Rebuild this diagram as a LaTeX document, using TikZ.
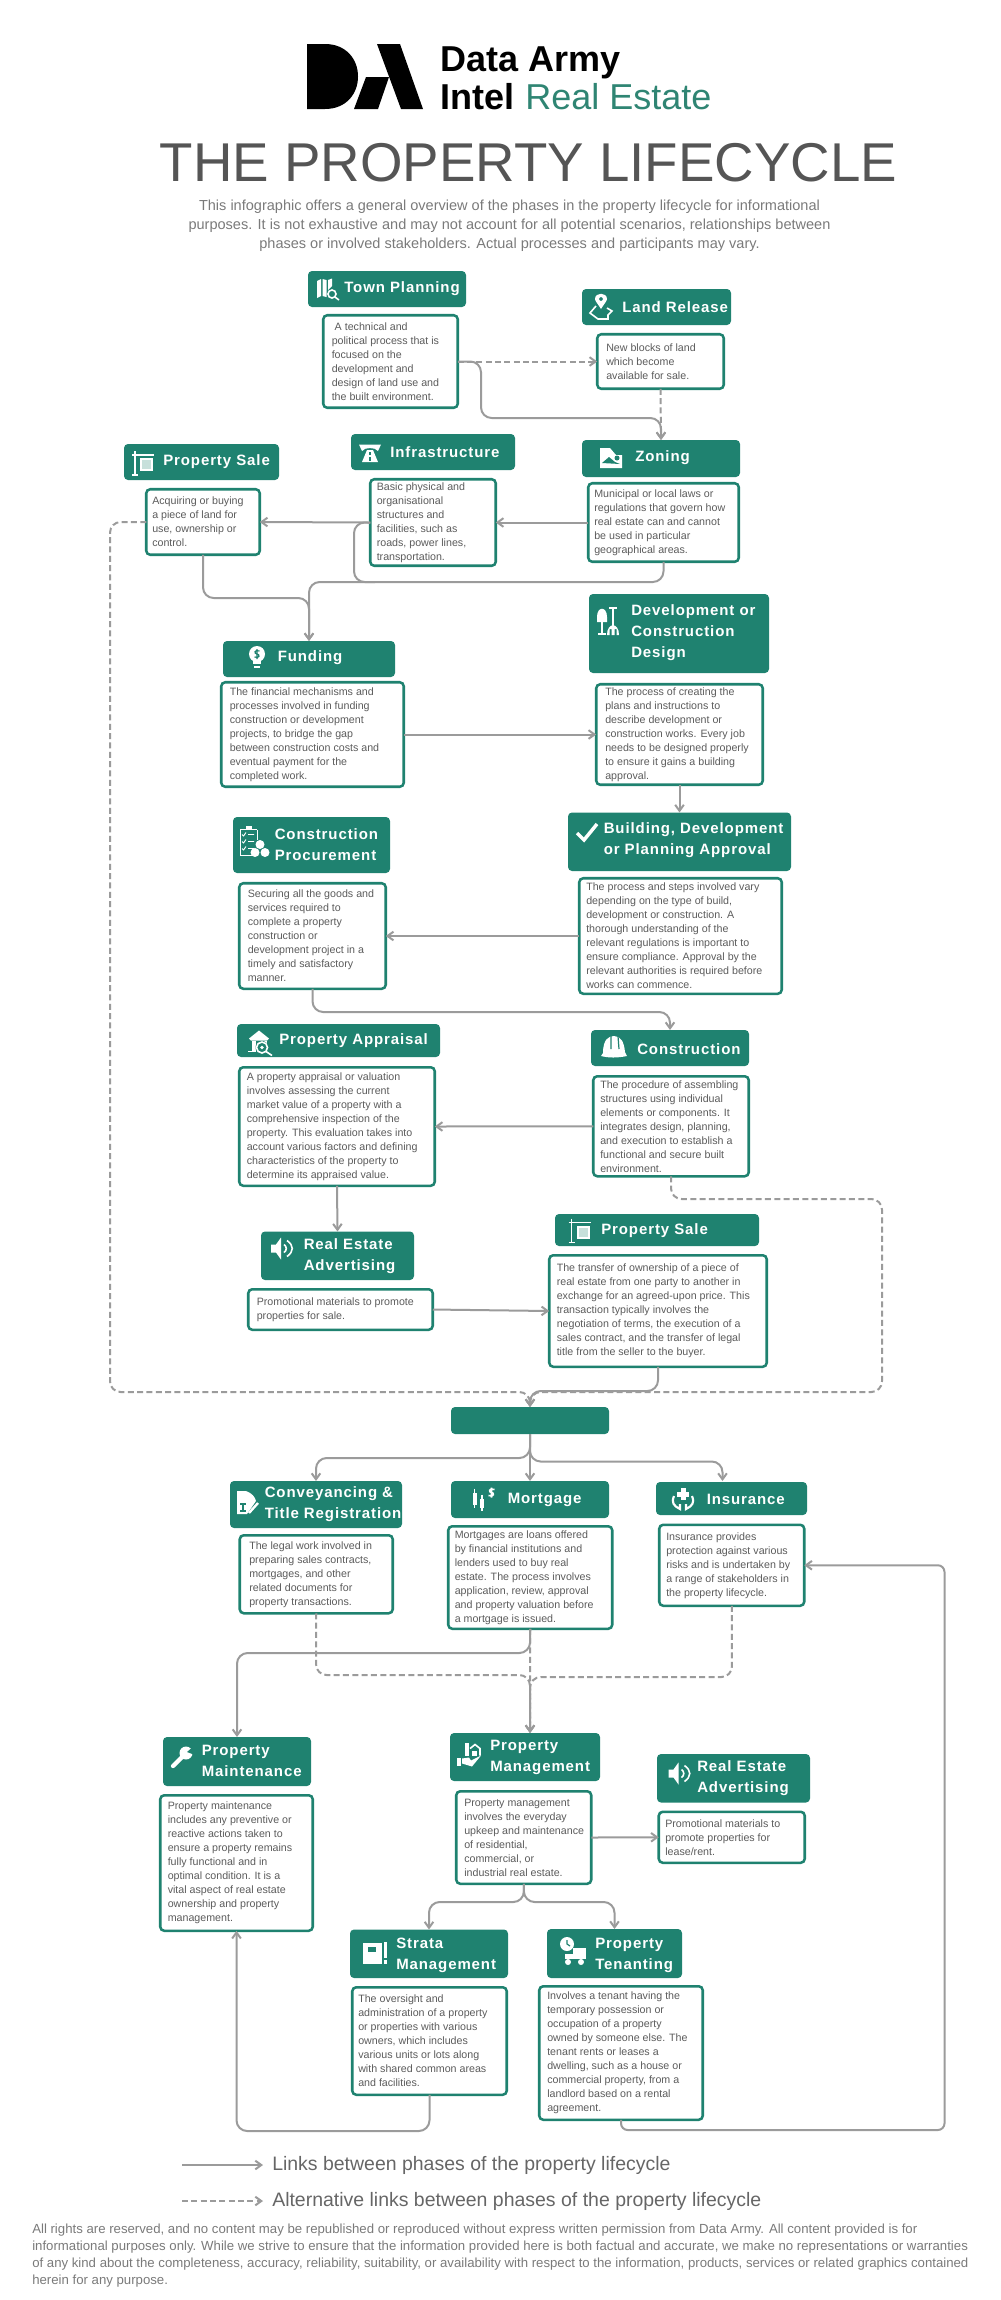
\documentclass[tikz,border=0pt]{standalone}
\usepackage{fontspec}
\setmainfont{Liberation Sans}
\newfontfamily\headfont[LetterSpace=6]{Liberation Sans}
\usetikzlibrary{arrows.meta}
\definecolor{propgreen}{HTML}{1F8270}
\definecolor{logogreen}{HTML}{2F8573}
\definecolor{linegrey}{HTML}{9B9B9B}
\definecolor{bodygrey}{HTML}{5C5C5C}
\definecolor{titlegrey}{HTML}{555555}
\definecolor{notegrey}{HTML}{7A7A7A}
\tikzset{
  headbox/.style={fill=propgreen, rounded corners=3pt, inner sep=0, outer sep=0},
  bodybox/.style={fill=white, draw=propgreen, line width=1.9pt, rounded corners=3pt, inner sep=0, outer sep=0},
  headtext/.style={anchor=west, inner sep=0, text=white, align=left, font=\headfont\bfseries\fontsize{11.25}{15.75}\selectfont},
  bodytext/.style={anchor=west, inner sep=0, text=bodygrey, align=left, font=\fontsize{8}{10.5}\selectfont},
  link/.style={draw=linegrey, line width=1.5pt, ->, rounded corners=8pt},
  altlink/.style={link, dash pattern=on 4.5pt off 2.5pt},
  iconline/.style={draw=white, line width=1.2pt, fill=none},
  iconcut/.style={draw=propgreen, line width=0.9pt, fill=none},
  iconmap/.pic={
    \fill[white] (-11,-8)--(-7,-10)--(-7,7)--(-11,9)--cycle;
    \fill[white] (-5.5,-10)--(-1.5,-9)--(-1.5,8)--(-5.5,7)--cycle;
    \fill[white] (0,-9)--(4,-10.5)--(4,-3)--(0,1)--cycle;
    \draw[iconline] (4,5) circle (4);
    \draw[iconline] (7,8)--(11,11);
  },
  iconpin/.pic={
    \fill[white,even odd rule] (0,2) .. controls (-3,-3) and (-6,-6) .. (-6,-8) .. controls (-6,-15) and (6,-15) .. (6,-8) .. controls (6,-6) and (3,-3) .. (0,2) -- cycle (0,-8) circle (2);
    \draw[iconline] (-5,-1) -- (-11,6) -- (-3,12) -- (7,12) -- (7,8) -- (11,4) -- (6,1);
  },
  iconimage/.pic={
    \fill[white] (-11,-10)--(-1,-10)--(5,-3)--(11,-3)--(11,10)--(-11,10)--cycle;
    \fill[propgreen] (6,0) circle (2.5);
    \fill[propgreen] (-9,5)--(-2,-1)--(4,4)--(9,6)--cycle;
  },
  iconroad/.pic={
    \fill[white] (-11,-8.5)--(11,-8.5)--(8,-2) .. controls (5,-6) and (-5,-6) .. (-8,-2) -- cycle;
    \fill[white] (-8,9)--(-3,-3)--(3,-3)--(8,9)--cycle;
    \draw[iconcut] (0,-1)--(0,2) (0,4)--(0,8);
  },
  iconsign/.pic={
    \draw[iconline] (-8,-12)--(-8,12) (-11,12)--(-5,12) (-11,-8)--(11,-8);
    \fill[white] (-3,-5) rectangle (10,8);
    \fill[white!75!propgreen] (-1,-3) rectangle (8,6);
  },
  iconbulb/.pic={
    \fill[white] (0,-3) circle (8);
    \fill[white] (-4,3) rectangle (4,7);
    \draw[iconline] (-3,10)--(3,10);
    \draw[iconcut] (2.5,-6) .. controls (-3,-8) and (-3,-3) .. (0,-3) .. controls (3,-3) and (3,2) .. (-2.5,0) (0,-8)--(0,2);
  },
  icontools/.pic={
    \fill[white] (-13,-4) .. controls (-13,-15) and (-3,-15) .. (-3,-4) -- (-3,1) -- (-13,1) -- cycle;
    \draw[iconline] (-8,1)--(-8,13) (-12,13)--(-4,13) (3,-13)--(3,6) (-1,-13)--(7,-13);
    \fill[white] (-3,14) .. controls (-3,1) and (9,1) .. (9,14) -- (6.5,14) -- (6.5,8) -- (4.5,8) -- (4.5,14) -- (1.5,14) -- (1.5,8) -- (-0.5,8) -- (-0.5,14) -- cycle;
  },
  iconcheck/.pic={
    \draw[white, line width=2.6pt] (-10,1)--(-3,8)--(10,-8);
  },
  iconclip/.pic={
    \draw[white, line width=0.7pt] (3,-12)--(3,-2) (-14,-12)--(-14,14)--(-2,14) (-14,-12)--(3,-12);
    \fill[white] (-8,-16) rectangle (-2,-12);
    \foreach \y in {-7,0,7} \draw[white, line width=0.7pt] (-12,\y)--(-10.5,\y+1.5)--(-8,\y-2) (-6,\y)--(0,\y);
    \fill[white] (6,3) circle (4.5) (1,11) circle (4.5) (11,11) circle (4.5);
  },
  iconhouse/.pic={
    \fill[white] (-11,-4)--(-1,-12)--(9,-4)--(7,-2)--(-9,-2)--cycle;
    \fill[white] (-8,-2) rectangle (-4,8);
    \draw[iconline] (-12,9)--(-4,9);
    \fill[white] (7,-2) rectangle (4,1);
    \fill[propgreen] (2,5) circle (6.5);
    \draw[iconline] (2,5) circle (5.5);
    \draw[iconline] (6,9)--(12,13);
    \fill[white] (2,5) circle (1.8);
  },
  iconhat/.pic={
    \fill[white] (-13,9) -- (-11,6) .. controls (-11,-8) and (-5,-11) .. (0,-11) .. controls (7,-11) and (10,-5) .. (11,5) -- (13,9) .. controls (3,11) and (-5,11) .. (-13,9) -- cycle;
    \draw[iconcut] (-3,-11)--(-3,2) (4,-11)--(5,2);
  },
  iconspeaker/.pic={
    \fill[white] (-11,-4)--(-6,-4)--(-1,-11)--(-1,11)--(-6,4)--(-11,4)--cycle;
    \draw[iconline] (2,-4) .. controls (5,-2) and (5,2) .. (2,4) (5,-8) .. controls (12,-3) and (12,3) .. (5,8);
  },
  icondeed/.pic={
    \fill[white] (-11,-12)--(-2,-12) .. controls (4,-10) and (7,-6) .. (8,-2) -- (-1,11) -- (-11,11) -- cycle;
    \draw[iconcut] (-8,1)--(-2,1) (-5,1)--(-5,8) (-8,8)--(-2,8);
    \draw[white, line width=1.8pt] (1,10)--(10,0);
  },
  iconcandle/.pic={
    \fill[white] (-11,-7) rectangle (-7,5);
    \draw[iconline] (-9,-11)--(-9,8) (-1.5,-5)--(-1.5,11);
    \fill[white] (-3.5,-1) rectangle (0.5,8);
    \draw[iconline] (11,-10) .. controls (5,-12) and (5,-7) .. (8,-7) .. controls (11,-7) and (11,-2) .. (5,-4) (8,-12)--(8,-2);
  },
  iconcare/.pic={
    \fill[white] (-2.5,-11) rectangle (2.5,1);
    \fill[white] (-6,-7.5) rectangle (6,-2.5);
    \draw[white, line width=1.6pt] (-9,-3) .. controls (-12,4) and (-9,7) .. (-3,10) -- (-3,5) (9,-3) .. controls (12,4) and (9,7) .. (3,10) -- (3,5);
  },
  iconwrench/.pic={
    \draw[white, line width=3.2pt, line cap=round] (-9,9)--(3,-3);
    \fill[white] (4,-4) circle (6.5);
    \fill[propgreen] (5,-5)--(12,-11)--(13,-2)--cycle;
  },
  iconhand/.pic={
    \fill[white] (-4,-12) rectangle (0,1);
    \draw[iconline] (1,-6)--(6,-10)--(11,-6)--(11,1);
    \fill[white] (3,-4) rectangle (8,1);
    \fill[white] (-12,3) rectangle (-8,11);
    \fill[white] (-7,4)--(0,3)--(2,6)--(12,1)--(3,12)--(-7,9)--cycle;
  },
  iconstrata/.pic={
    \fill[white] (-12,-10) rectangle (7,11);
    \fill[propgreen] (-7,-6) rectangle (1,-1);
    \fill[white] (9,-11) rectangle (12,5);
    \fill[white] (9,7) rectangle (12,11);
  },
  icontruck/.pic={
    \fill[white] (-6,-7) circle (7);
    \draw[iconcut] (-6,-11)--(-6,-7)--(-3,-5);
    \fill[white] (0,-3) rectangle (13,8);
    \fill[white] (-8,3) rectangle (0,8);
    \fill[white] (-5,11) circle (3) (8,11) circle (3);
  }
}
\begin{document}
\begin{tikzpicture}[x=0.75pt, y=-0.75pt, >={Straight Barb[length=4.5pt,width=6.5pt]}]
 \useasboundingbox (0,0) rectangle (1000,2300);

 % logo
 \fill[black] (307,44) -- (325,44) .. controls (346,44) and (358,59) .. (358,76.5) .. controls (358,94) and (346,109) .. (325,109) -- (307,109) -- cycle;
 \fill[black] (377,44) -- (400,44) -- (423,109) -- (401,109) -- cycle;
 \fill[black] (366,77) -- (389,77) -- (378,109) -- (354,109) -- cycle;
 \node[anchor=base west, inner sep=0, font=\bfseries\fontsize{27}{27}\selectfont] (logotop) at (440,71) {Data Army};
 \node[anchor=base west, inner sep=0, font=\bfseries\fontsize{27}{27}\selectfont] (logointel) at (440,109) {Intel};
 \node[anchor=base west, inner sep=0, text=logogreen, font=\fontsize{27}{27}\selectfont] (logoreal) at (525,109) {Real Estate};

 \node[anchor=base, inner sep=0, text=titlegrey, font=\fontsize{41}{41}\selectfont] (title) at (528.5,181) {THE PROPERTY LIFECYCLE};
 \node[inner sep=0, text=notegrey, align=center, font=\fontsize{10.9}{14.3}\selectfont] (intro) at (509.5,226) {This infographic offers a general overview of the phases in the property lifecycle for informational\\purposes. It is not exhaustive and may not account for all potential scenarios, relationships between\\phases or involved stakeholders. Actual processes and participants may vary.};

 % headers
 \foreach \nm/\xa/\ya/\xb/\yb/\tx/\ty/\txt in {
   townhead/308/271/466/307/344/289/{Town Planning},
   landhead/582/289/731/325/622/307/{Land Release},
   zonehead/582/440/740/477/635/458/{Zoning},
   infrahead/351/434/515/470/390/452/{Infrastructure},
   buyhead/124/444/279/480/163/462/{Property Sale},
   fundhead/223/641/395/677/277.5/658/{Funding},
   devhead/589/594/769/673/631/633/{Development or\\Construction\\Design},
   approvehead/568/812.5/791/871/603.5/840/{Building, Development\\or Planning Approval},
   prochead/233/817/390/873/274.5/845/{Construction\\Procurement},
   appraisehead/237/1024/440/1057/279/1041/{Property Appraisal},
   buildhead/591/1030/749/1066/637/1049/{Construction},
   adhead/261/1231.5/414/1280/303.5/1256.5/{Real Estate\\Advertising},
   salehead/555/1214/759/1246/601/1231/{Property Sale},
   convhead/230/1481/402/1528/264.5/1504/{Conveyancing \&\\Title Registration},
   morthead/451/1481/609/1518/507.5/1500/{Mortgage},
   insurehead/656/1482/807/1515/706.5/1499/{Insurance},
   mainthead/163/1737/311/1786/201.5/1761/{Property\\Maintenance},
   mgmthead/450/1733/600/1781/490/1757.5/{Property\\Management},
   leasehead/657/1754/810/1802.5/697/1778.5/{Real Estate\\Advertising},
   stratahead/350/1929.5/508/1978/396/1955/{Strata\\Management},
   tenanthead/547/1929/682/1978/595/1955/{Property\\Tenanting}} {
     \node[headbox, minimum width=(\xb-\xa)*0.75pt, minimum height=(\yb-\ya)*0.75pt] (\nm) at ({(\xa+\xb)/2},{(\ya+\yb)/2}) {};
     \node[headtext] (\nm text) at (\tx,\ty) {\txt};
 }
 \node[headbox, minimum width=118.5pt, minimum height=20.25pt] (blankhead) at (530,1420.5) {};

 % icons
 \pic at (328,289) {iconmap};
 \pic at (601,307) {iconpin};
 \pic at (611,458) {iconimage};
 \pic at (370,453) {iconroad};
 \pic at (143,463) {iconsign};
 \pic at (257,657) {iconbulb};
 \pic at (610,621) {icontools};
 \pic at (587,832) {iconcheck};
 \pic at (254,841.5) {iconclip};
 \pic at (260,1042.5) {iconhouse};
 \pic at (614,1047) {iconhat};
 \pic at (282,1248.5) {iconspeaker};
 \pic at (579.5,1230.5) {iconsign};
 \pic at (248,1503) {icondeed};
 \pic at (483.5,1499.5) {iconcandle};
 \pic at (683,1499) {iconcare};
 \pic at (182,1757) {iconwrench};
 \pic at (469,1754.5) {iconhand};
 \pic at (679.5,1773.5) {iconspeaker};
 \pic at (375,1953) {iconstrata};
 \pic at (573,1951) {icontruck};

 % text boxes
 \foreach \nm/\xa/\ya/\xb/\yb/\pad/\txt in {
   town/322/314/459/409/9.5/{\ A technical and\\political process that is\\focused on the\\development and\\design of land use and\\the built environment.},
   land/596/333/725/390/10/{New blocks of land\\which become\\available for sale.},
   zone/587/482/740/563/7/{Municipal or local laws or\\regulations that govern how\\real estate can and cannot\\be used in particular\\geographical areas.},
   infra/369/478/497/567/7.5/{Basic physical and\\organisational\\structures and\\facilities, such as\\roads, power lines,\\transportation.},
   buy/145/488/261/556/7/{Acquiring or buying\\a piece of land for\\use, ownership or\\control.},
   fund/220/681/405/788/9.5/{The financial mechanisms and\\processes involved in funding\\construction or development\\projects, to bridge the gap\\between construction costs and\\eventual payment for the\\completed work.},
   dev/595/683/764/786/10/{The process of creating the\\plans and instructions to\\describe development or\\construction works. Every job\\needs to be designed properly\\to ensure it gains a building\\approval.},
   approve/578/877/783/995/8/{The process and steps involved vary\\depending on the type of build,\\development or construction. A\\thorough understanding of the\\relevant regulations is important to\\ensure compliance. Approval by the\\relevant authorities is required before\\works can commence.},
   proc/238/882/387/990/9.5/{Securing all the goods and\\services required to\\complete a property\\construction or\\development project in a\\timely and satisfactory\\manner.},
   appraise/238/1066/436/1187/8.5/{A property appraisal or valuation\\involves assessing the current\\market value of a property with a\\comprehensive inspection of the\\property. This evaluation takes into\\account various factors and defining\\characteristics of the property to\\determine its appraised value.},
   build/592/1075/750/1177.5/8/{The procedure of assembling\\structures using individual\\elements or components. It\\integrates design, planning,\\and execution to establish a\\functional and secure built\\environment.},
   ad/247/1288/434/1331/9.5/{Promotional materials to promote\\properties for sale.},
   sale/548/1254/768/1368/8.5/{The transfer of ownership of a piece of\\real estate from one party to another in\\exchange for an agreed-upon price. This\\transaction typically involves the\\negotiation of terms, the execution of a\\sales contract, and the transfer of legal\\title from the seller to the buyer.},
   conv/238.5/1534/394/1614.5/10.5/{The legal work involved in\\preparing sales contracts,\\mortgages, and other\\related documents for\\property transactions.},
   mort/447/1525/613.5/1630/7.5/{Mortgages are loans offered\\by financial institutions and\\lenders used to buy real\\estate. The process involves\\application, review, approval\\and property valuation before\\a mortgage is issued.},
   insure/658/1523.5/805.5/1607/8/{Insurance provides\\protection against various\\risks and is undertaken by\\a range of stakeholders in\\the property lifecycle.},
   maint/159/1794/314/1932/8.5/{Property maintenance\\includes any preventive or\\reactive actions taken to\\ensure a property remains\\fully functional and in\\optimal condition. It is a\\vital aspect of real estate\\ownership and property\\management.},
   mgmt/455/1790/592.5/1885/9/{Property management\\involves the everyday\\upkeep and maintenance\\of residential,\\commercial, or\\industrial real estate.},
   lease/657.5/1810.5/806/1864/7.5/{Promotional materials to\\promote properties for\\lease/rent.},
   strata/351/1986/508/2096/7/{The oversight and\\administration of a property\\or properties with various\\owners, which includes\\various units or lots along\\with shared common areas\\and facilities.},
   tenant/538/1985/704/2121/9/{Involves a tenant having the\\temporary possession or\\occupation of a property\\owned by someone else. The\\tenant rents or leases a\\dwelling, such as a house or\\commercial property, from a\\landlord based on a rental\\agreement.}} {
     \node[bodybox, minimum width=(\xb-\xa-2.5)*0.75pt, minimum height=(\yb-\ya-2.5)*0.75pt] (\nm) at ({(\xa+\xb)/2},{(\ya+\yb)/2}) {};
     \node[bodytext] (\nm text) at ({\xa+\pad},{(\ya+\yb)/2}) {\txt};
 }

 % free ends of lines
 \coordinate (infrajoin) at (375,582);
 \coordinate (insuretop) at (722.5,1481);
 \coordinate (mgmttop) at (530,1733);

 % lines
 \draw[altlink] (town.east) -- (land.west);
 \draw[link] (town.east) -| (481,418) -| (zonehead.north);
 \draw[altlink] (land.south) -- (zonehead.north);
 \draw[link] (zone.west) -- (infra.east);
 \draw[link] (infra.west) -- (buy.east);
 \draw[link,-] (infra.west) -| (354,582) -- (infrajoin);
 \draw[link] (zone.south) -- (663.5,582) -| (fundhead.north);
 \draw[link] (buy.south) -- (203,598) -| (fundhead.north);
 \draw[altlink] (buy.west) -| (110,1392) -| (blankhead.north);
 \draw[link] (fund.east) -- (dev.west);
 \draw[link] (dev.south) -- (approvehead.north);
 \draw[link] (approve.west) -- (proc.east);
 \draw[link] (proc.south) -- (312.5,1012) -| (buildhead.north);
 \draw[link] (build.west) -- (appraise.east);
 \draw[link] (appraise.south) -- (adhead.north);
 \draw[altlink] (build.south) -- (671,1199) -| (882,1392) -| (blankhead.north);
 \draw[link] (ad.east) -- (sale.west);
 \draw[link] (sale.south) -- (658,1391) -| (blankhead.north);

 \draw[link] (blankhead.south) -- (morthead.north);
 \draw[link] (blankhead.south) -- (530,1458) -| (convhead.north);
 \draw[link] (blankhead.south) -- (530,1461.5) -| (insuretop);
 \draw[link] (mort.south) -- (530,1653) -| (mainthead.north);
 \draw[altlink] (mort.south) -- (mgmttop);
 \draw[altlink] (conv.south) -- (316,1675) -| (mgmttop);
 \draw[altlink] (insure.south) -- (732,1677) -| (mgmttop);
 \draw[link] (mgmt.east) -- (lease.west);
 \draw[link] (mgmt.south) -- (524,1902) -| (stratahead.north);
 \draw[link] (mgmt.south) -- (524,1902) -| (tenanthead.north);
 \draw[link] (strata.south) -- (429.5,2131) -| (maint.south);
 \draw[link, rounded corners=5pt] (tenant.south) |- (944.5,2130) |- (insure.east);

 % legend
 \coordinate (solidfrom) at (182,2165);
 \coordinate (solidto) at (263,2165);
 \coordinate (dashfrom) at (182,2201);
 \coordinate (dashto) at (263,2201);
 \draw[link] (solidfrom) -- (solidto);
 \draw[altlink] (dashfrom) -- (dashto);
 \node[anchor=west, inner sep=0, text=titlegrey!90, font=\fontsize{14.6}{16}\selectfont] (legendsolid) at (272,2165) {Links between phases of the property lifecycle};
 \node[anchor=west, inner sep=0, text=titlegrey!90, font=\fontsize{14.6}{16}\selectfont] (legenddash) at (272,2201) {Alternative links between phases of the property lifecycle};

 \node[anchor=north west, inner sep=0, text=notegrey, align=left, font=\fontsize{9.9}{12.75}\selectfont] (footer) at (32,2224) {All rights are reserved, and no content may be republished or reproduced without express written permission from Data Army. All content provided is for\\informational purposes only. While we strive to ensure that the information provided here is both factual and accurate, we make no representations or warranties\\of any kind about the completeness, accuracy, reliability, suitability, or availability with respect to the information, products, services or related graphics contained\\herein for any purpose.};
\end{tikzpicture}
\end{document}
